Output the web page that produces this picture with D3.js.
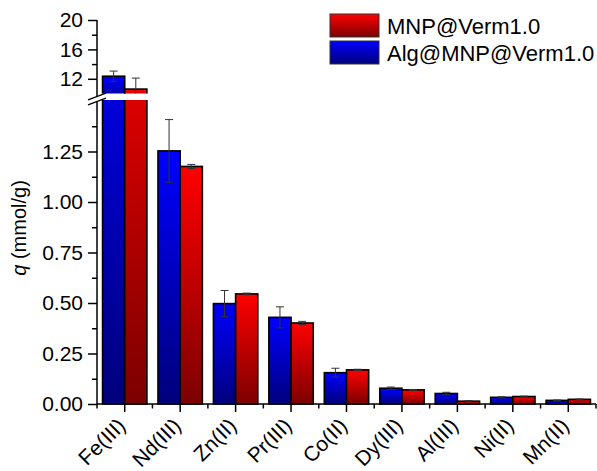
<!DOCTYPE html>
<html>
<head>
<meta charset="utf-8">
<script src="https://cdn.jsdelivr.net/npm/d3@7"></script>
<style>
  html, body { margin: 0; padding: 0; background: #fff; }
  svg { display: block; font-family: "Liberation Sans", Arial, sans-serif; }
</style>
</head>
<body>
<svg id="chart"></svg>
<script>
// categories and values (mmol/g)
const categories = ["Fe(III)", "Nd(III)", "Zn(II)", "Pr(III)", "Co(II)", "Dy(III)", "Al(III)", "Ni(II)", "Mn(II)"];
const algValues  = [12.35, 1.253, 0.497, 0.429, 0.155, 0.078, 0.052, 0.033, 0.018];
const algErrors  = [0.70, 0.155, 0.065, 0.052, 0.022, 0.006, 0.006, 0.003, 0.002];
const mnpValues  = [10.6, 1.176, 0.545, 0.401, 0.169, 0.070, 0.014, 0.037, 0.023];
const mnpErrors  = [1.5, 0.010, 0.004, 0.008, 0.003, 0.002, 0.003, 0.002, 0.002];

const lowerTicks = [0, 0.25, 0.5, 0.75, 1.0, 1.25];
const lowerMinor = [0.125, 0.375, 0.625, 0.875, 1.125, 1.375];
const upperTicks = [12, 16, 20];
const upperMinor = [14, 18];

const legendLabels = ["MNP@Verm1.0", "Alg@MNP@Verm1.0"];

const width = 597, height = 471;
const FONT = 21;

const SERIES = [
    {name: "alg", values: algValues, errors: algErrors, top: "#0000ff", bottom: "#00007c"},
    {name: "mnp", values: mnpValues, errors: mnpErrors, top: "#ff0000", bottom: "#7c0000"}
];

const svg = d3.select("#chart")
    .attr("width", width)
    .attr("height", height);

// scales
const x = d3.scaleBand().domain(categories).range([97, 596]).padding(0);
const xSub = d3.scaleBand().domain(SERIES.map(s => s.name))
    .range([0, x.bandwidth()]).paddingOuter(0.25).paddingInner(0);
const yLow = d3.scaleLinear().domain([0, 1.5]).range([404, 101]);
const yUp = d3.scaleLinear().domain([10, 20]).range([93.5, 20]);

// gradients, one per series (bounding box so each segment gets its own)
const defs = svg.append("defs");
SERIES.forEach(function(s) {
    let g = defs.append("linearGradient")
        .attr("id", "grad-" + s.name)
        .attr("x1", 0).attr("y1", 0).attr("x2", 0).attr("y2", 1);
    g.append("stop").attr("offset", "0%").attr("stop-color", s.top);
    g.append("stop").attr("offset", "100%").attr("stop-color", s.bottom);
});

// clip regions for the two panels of the broken axis
defs.append("clipPath").attr("id", "clip-low")
    .append("rect").attr("x", 97).attr("y", 100).attr("width", 500).attr("height", 310);
defs.append("clipPath").attr("id", "clip-up")
    .append("rect").attr("x", 97).attr("y", 0).attr("width", 500).attr("height", 93.5);

var drawPanel = function(scale, clipId, floorValue) {
    let g = svg.append("g").attr("clip-path", "url(#" + clipId + ")");
    const base = scale(floorValue);
    SERIES.forEach(function(s) {
        const bw = xSub.bandwidth();
        categories.forEach(function(cat, i) {
            const v = s.values[i];
            if (v <= floorValue) return;
            const bx = x(cat) + xSub(s.name);
            const top = scale(v);
            // bars are extended past the clip so only the visible edges get stroked
            const yTop = Math.max(top, -20);
            const yBot = floorValue > 0 ? base + 10 : base;
            g.append("rect")
                .attr("x", bx)
                .attr("y", yTop)
                .attr("width", bw)
                .attr("height", yBot - yTop)
                .attr("fill", "url(#grad-" + s.name + ")")
                .attr("stroke", "#000")
                .attr("stroke-width", 1.6);
        });
    });
    // error bars on top
    SERIES.forEach(function(s) {
        const bw = xSub.bandwidth();
        categories.forEach(function(cat, i) {
            const v = s.values[i], e = s.errors[i];
            if (v <= floorValue) return;
            const cx = x(cat) + xSub(s.name) + bw / 2;
            const y1 = scale(v + e), y2 = scale(v - e);
            g.append("line").attr("x1", cx).attr("x2", cx).attr("y1", y1).attr("y2", y2)
                .attr("stroke", "#333").attr("stroke-width", 1);
            [y1, y2].forEach(function(yy) {
                g.append("line").attr("x1", cx - 4).attr("x2", cx + 4).attr("y1", yy).attr("y2", yy)
                    .attr("stroke", "#333").attr("stroke-width", 1);
            });
        });
    });
};

drawPanel(yLow, "clip-low", 0);
drawPanel(yUp, "clip-up", 10);

// y axes: lower panel
var styleAxis = function(g) {
    g.selectAll("path").attr("stroke", "#000").attr("stroke-width", 1.5);
    g.selectAll(".tick line").attr("stroke", "#000").attr("stroke-width", 1.5);
    g.selectAll(".tick text").attr("font-size", FONT).attr("fill", "#000")
        .attr("font-family", '"Liberation Sans", Arial, sans-serif');
};

let lowAxis = svg.append("g").attr("transform", "translate(97,0)")
    .call(d3.axisLeft(yLow).tickValues(lowerTicks).tickFormat(d3.format(".2f"))
        .tickSizeOuter(0).tickSize(9).tickPadding(5));
lowAxis.select("path").attr("d", "M0," + yLow(0) + "V" + 101);
styleAxis(lowAxis);

svg.append("g").attr("transform", "translate(97,0)")
    .call(d3.axisLeft(yLow).tickValues(lowerMinor).tickFormat("").tickSizeOuter(0).tickSize(5))
    .call(g => g.select("path").remove())
    .call(styleAxis);

// y axes: upper panel
let upAxis = svg.append("g").attr("transform", "translate(97,0)")
    .call(d3.axisLeft(yUp).tickValues(upperTicks).tickFormat(d3.format("d"))
        .tickSizeOuter(0).tickSize(9).tickPadding(5));
upAxis.select("path").attr("d", "M0," + yUp(20) + "V" + 96);
styleAxis(upAxis);

svg.append("g").attr("transform", "translate(97,0)")
    .call(d3.axisLeft(yUp).tickValues(upperMinor).tickFormat("").tickSizeOuter(0).tickSize(5))
    .call(g => g.select("path").remove())
    .call(styleAxis);

// break marks on the y axis
[96.5, 101.5].forEach(function(yc) {
    svg.append("line")
        .attr("x1", 88).attr("y1", yc + 3.4)
        .attr("x2", 106).attr("y2", yc - 3.4)
        .attr("stroke", "#000").attr("stroke-width", 1.3);
});

// x axis: major ticks at the categories, minor at the band edges
let xAxis = svg.append("g").attr("transform", "translate(0," + yLow(0) + ")")
    .call(d3.axisBottom(x).tickSizeOuter(0).tickSize(8).tickFormat(""));
xAxis.select("path").attr("d", "M97,0H596");
styleAxis(xAxis);

svg.append("g").attr("transform", "translate(0," + yLow(0) + ")")
    .selectAll("line")
    .data(categories.map(c => x(c)).concat([x.range()[1]]))
    .enter()
    .append("line")
    .attr("x1", d => d).attr("x2", d => d)
    .attr("y1", 0).attr("y2", 4.5)
    .attr("stroke", "#000").attr("stroke-width", 1.5);

// rotated category labels
svg.append("g").selectAll("text")
    .data(categories)
    .enter()
    .append("text")
    .attr("transform", d => "translate(" + (x(d) + x.bandwidth() / 2 + 2) + ",427) rotate(-45)")
    .attr("text-anchor", "end")
    .attr("font-size", FONT)
    .attr("fill", "#000")
    .text(d => d);

// y axis title
let ytitle = svg.append("text")
    .attr("transform", "translate(26,228) rotate(-90)")
    .attr("text-anchor", "middle")
    .attr("font-size", 20)
    .attr("fill", "#000");
ytitle.append("tspan").attr("font-style", "italic").text("q");
ytitle.append("tspan").text(" (mmol/g)");

// legend
const legendSeries = [SERIES[1], SERIES[0]];
let legend = svg.append("g");
legendSeries.forEach(function(s, i) {
    legend.append("rect")
        .attr("x", 330).attr("y", 14 + i * 27)
        .attr("width", 49).attr("height", 23)
        .attr("fill", "url(#grad-" + s.name + ")")
        .attr("stroke", "#333").attr("stroke-width", 1);
    legend.append("text")
        .attr("x", 387).attr("y", 14 + i * 27 + 20)
        .attr("font-size", 22)
        .attr("fill", "#000")
        .text(legendLabels[i]);
});
</script>
</body>
</html>
